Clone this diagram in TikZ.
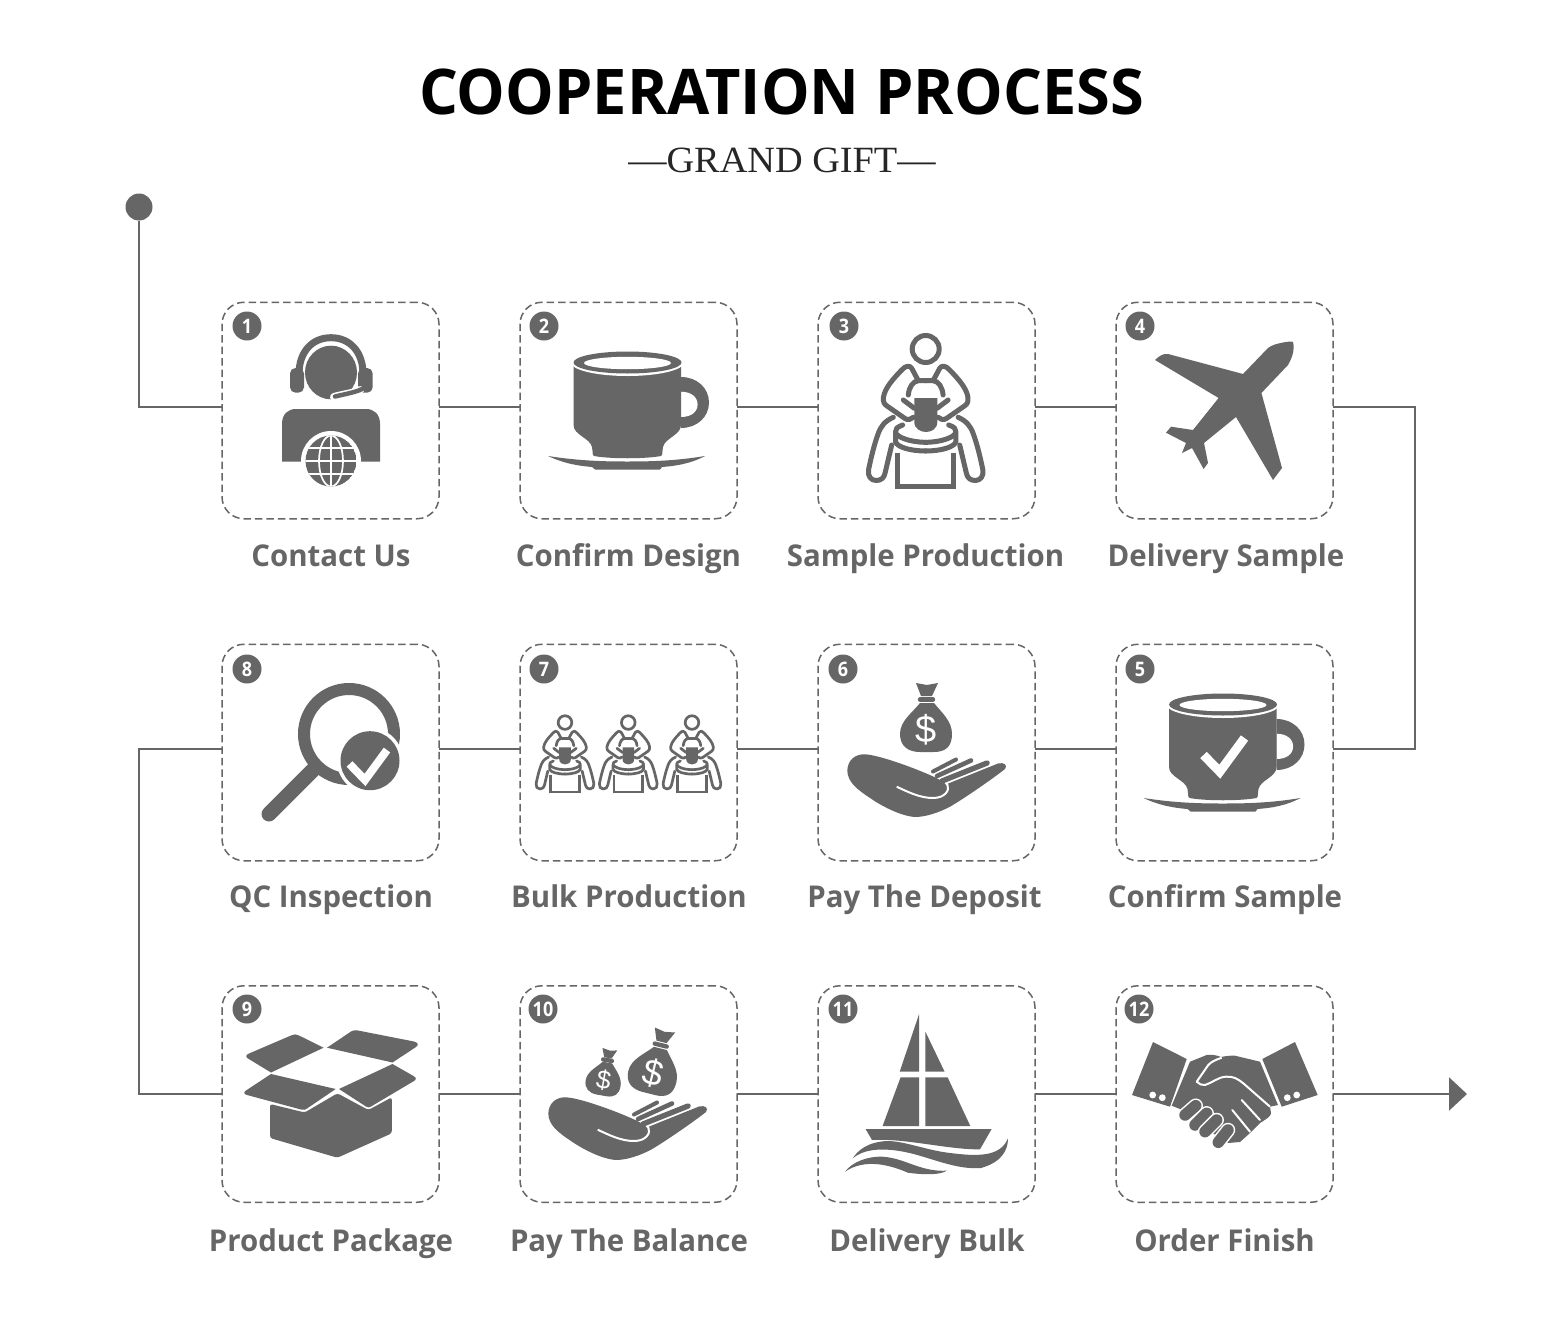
\documentclass[tikz,border=0pt]{standalone}
\usepackage{fontspec}
\usetikzlibrary{arrows.meta}
\setmainfont{Open Sans}
\newfontfamily\titlefont[FakeStretch=0.972]{Open Sans}
\newfontfamily\labfont[FakeStretch=0.98]{Open Sans}
\newfontfamily\badgefont[FakeStretch=0.9]{Open Sans}
\newfontfamily\subfont[FakeStretch=1.035]{Liberation Serif}
\newfontfamily\dollarfont{Liberation Sans}
\definecolor{ink}{HTML}{666666}
\tikzset{
  ico/.style={fill=ink,draw=none},
  conn/.style={draw=ink,line width=2.2pt},
  stepbox/.style={draw=ink,line width=1.5pt,dash pattern=on 7.5pt off 4pt,rounded corners=22pt,minimum width=217pt,minimum height=216.5pt,inner sep=0pt,outer sep=0pt},
  badge/.style={circle,fill=ink,text=white,minimum size=29pt,inner sep=0pt,font=\fontsize{20}{20}\selectfont\badgefont\bfseries},
  lab/.style={text=ink,anchor=base,inner sep=0pt,font=\fontsize{30}{30}\selectfont\labfont\bfseries},
  pl/.style={draw=ink,line cap=round,line join=round,fill=none},
}
\def\cupicon{%
  \fill[ico] (681,377) .. controls (697,377) and (709,388) .. (709,402.5) .. controls (709,417) and (697,428) .. (681,428) -- cycle;
  \fill[white] (681,391.7) .. controls (691,391.7) and (697.6,397) .. (697.6,404.5) .. controls (697.6,412) and (691,417) .. (681,417) -- cycle;
  \fill[ico] (573.5,362) -- (573.5,425) .. controls (573.5,435) and (590,438) .. (592,447) .. controls (593,452) and (592,455) .. (594,456) .. controls (610,459) and (645,459) .. (661,456) .. controls (663,455) and (662,452) .. (663,447) .. controls (665,438) and (681,435) .. (681,425) -- (681,362) -- cycle;
  \fill[white] (627.5,362.5) ellipse [x radius=56.5,y radius=13.5];
  \fill[ico] (627.5,362.5) ellipse [x radius=54,y radius=11];
  \fill[white] (627.5,363) ellipse [x radius=43.5,y radius=6.2];
  \fill[ico] (548,456) .. controls (580,461) and (605,461.5) .. (627,461.5) .. controls (650,461.5) and (675,461) .. (705,456) .. controls (690,464) and (675,466) .. (662,467) -- (660,469.5) -- (595,469.5) -- (592,467) .. controls (580,466) and (565,464) .. cycle;
}
\def\potterhalf#1{%
  \draw[pl,line width=#1] (918.3,380.7) -- (911.7,368.3) .. controls (910,365.5) and (906,365) .. (901.7,370) .. controls (893,379) and (885,388) .. (883.5,397) .. controls (883,402) and (884,404) .. (887,406) -- (905,418.5) .. controls (908,420.5) and (911,419.5) .. (913.3,417.3);
  \draw[pl,line width=#1] (903.3,400) -- (914.3,408.3);
  \draw[pl,line width=#1] (908.3,395) .. controls (909,387) and (913,381) .. (918.3,380.7) -- (926,380.7);
  \draw[pl,line width=#1] (893.3,417.3) .. controls (885,421) and (881,426) .. (878.3,433.3) .. controls (874,445) and (871,458) .. (868.5,470) .. controls (867.5,476) and (871,480.5) .. (876,480.5) .. controls (881,480.5) and (884,478) .. (885,473.3) -- (891.7,445);
  \draw[pl,line width=#1] (902.7,425) .. controls (897,427) and (895,429) .. (895.5,432) .. controls (896,437) and (910,442.3) .. (926,442.3);
  \draw[pl,line width=#1] (895.5,433) -- (895.5,441.7) .. controls (897,447) and (910,451) .. (926,451);
  \draw[pl,line width=#1,line cap=butt,line join=miter] (897.5,452.5) -- (897.5,486.5) -- (926,486.5);
}
\def\pottericon#1{%
  \draw[pl,line width=#1] (925.7,349) circle [radius=13.5];
  \fill[ico] (914.3,398) -- (937.3,398) -- (937.3,422) .. controls (937.3,429) and (931,432) .. (926,432) .. controls (921,432) and (914.3,429) .. (914.3,422) -- cycle;
  \potterhalf{#1}
  \begin{scope}[shift={(1851.4,0)},xscale=-1]\potterhalf{#1}\end{scope}
}
\def\handicon{%
  \fill[ico] (847.3,770) .. controls (848,760) and (855,754) .. (865,754.3) .. controls (880,755) and (920,770) .. (937,778.3) -- (947,784) -- (998,763.5) .. controls (1004,762) and (1008,765) .. (1005,769) .. controls (995,777) and (965,798) .. (950,806.7) .. controls (938,813) and (925,817) .. (915,817) .. controls (900,816) and (880,805) .. (870,798) .. controls (858,790) and (847,782) .. (847.3,770) -- cycle;
  \draw[white,line width=2pt] (896.7,786.7) .. controls (908,792) and (920,798) .. (933,798) .. controls (945,798) and (950,790) .. (947.5,785) .. controls (945,781) and (940,778) .. (932,774);
  \draw[draw=ink,line width=4pt,line cap=round] (933,771.5) -- (956,759.5);
  \draw[draw=ink,line width=4.6pt,line cap=round] (937,776) -- (971,760.5);
  \draw[draw=ink,line width=5.4pt,line cap=round] (942,781) -- (987,763);
}
\def\bagicon#1{%
  \fill[ico] (-10,-35) -- (1,-33) -- (12,-35) -- (6,-22) -- (-5,-22) -- cycle;
  \draw[draw=ink,line width=4.4pt,line cap=round] (-6,-18.5) -- (7,-18.5);
  \fill[ico] (-6,-15) .. controls (-14,-5) and (-26,3) .. (-26,16) .. controls (-26,28) and (-18,34) .. (-6,34) -- (8,34) .. controls (20,34) and (26,28) .. (26,16) .. controls (26,3) and (16,-5) .. (8,-15) -- cycle;
  \node[text=white,inner sep=0pt,transform shape,font=\fontsize{#1}{#1}\selectfont\dollarfont] at (0,12) {\$};
}
\begin{document}
\begin{tikzpicture}[x=1pt,y=-1pt]
\useasboundingbox (0,0) rectangle (1564,1338);
\fill[white] (0,0) rectangle (1564,1338);
% titles
\node[anchor=base,inner sep=0pt,font=\fontsize{63}{63}\selectfont\titlefont\bfseries] (title) at (781.5,114) {COOPERATION PROCESS};
\node[anchor=base,inner sep=0pt,text=black!85,font=\fontsize{37}{37}\selectfont\subfont] (sub) at (782,172) {—GRAND GIFT—};
% boxes
\foreach \nm/\cx/\cy in {b1/330.5/410.5,b2/628.5/410.5,b3/926.5/410.5,b4/1224.5/410.5,
  b8/330.5/752.5,b7/628.5/752.5,b6/926.5/752.5,b5/1224.5/752.5,
  b9/330.5/1094,b10/628.5/1094,b11/926.5/1094,b12/1224.5/1094}
  \node[stepbox] (\nm) at (\cx,\cy) {};
% connectors
\node[circle,fill=ink,minimum size=27pt,inner sep=0pt] (start) at (139,207) {};
\coordinate (finish) at (1467,1094);
\coordinate (rtop) at (1415,407);
\coordinate (lmid) at (139,749);
\draw[conn] (start.south) |- ([yshift=3.5pt]b1.west);
\draw[conn] ([yshift=3.5pt]b1.east) -- ([yshift=3.5pt]b2.west);
\draw[conn] ([yshift=3.5pt]b2.east) -- ([yshift=3.5pt]b3.west);
\draw[conn] ([yshift=3.5pt]b3.east) -- ([yshift=3.5pt]b4.west);
\draw[conn] ([yshift=3.5pt]b4.east) -- (rtop) |- ([yshift=3.5pt]b5.east);
\draw[conn] ([yshift=3.5pt]b5.west) -- ([yshift=3.5pt]b6.east);
\draw[conn] ([yshift=3.5pt]b6.west) -- ([yshift=3.5pt]b7.east);
\draw[conn] ([yshift=3.5pt]b7.west) -- ([yshift=3.5pt]b8.east);
\draw[conn] ([yshift=3.5pt]b8.west) -- (lmid) |- (b9.west);
\draw[conn] (b9.east) -- (b10.west);
\draw[conn] (b10.east) -- (b11.west);
\draw[conn] (b11.east) -- (b12.west);
\draw[conn,-{Triangle[length=18pt,width=33pt]}] (b12.east) -- (finish);
% badges
\foreach \nm/\bx/\by/\t in {n1/247/326/1,n2/544/326/2,n3/844/326/3,n4/1140/326/4,
  n8/247/669/8,n7/544/669/7,n6/843/669/6,n5/1140/669/5,
  n9/247/1009/9,n10/543/1009/10,n11/843/1009/11,n12/1139/1009/12}
  \node[badge] (\nm) at (\bx,\by) {\t};
% labels
\node[lab] (l1) at (331,566) {Contact Us};
\node[lab] (l2) at (628.5,566) {Confirm Design};
\node[lab] (l3) at (925.5,566) {Sample Production};
\node[lab] (l4) at (1226,566) {Delivery Sample};
\node[lab] (l8) at (331,907) {QC Inspection};
\node[lab] (l7) at (629,907) {Bulk Production};
\node[lab] (l6) at (924.5,907) {Pay The Deposit};
\node[lab] (l5) at (1225,907) {Confirm Sample};
\node[lab] (l9) at (331,1251) {Product Package};
\node[lab] (l10) at (629,1251) {Pay The Balance};
\node[lab] (l11) at (927,1251) {Delivery Bulk};
\node[lab] (l12) at (1224.5,1251) {Order Finish};
% icon 1
\draw[draw=ink,line width=7pt] (299,374) .. controls (299,352) and (312,337.7) .. (331,337.7) .. controls (350,337.7) and (363,352) .. (363,374);
\fill[ico] (331,372.5) ellipse [x radius=26,y radius=26.8];
\fill[ico,rounded corners=5.5pt] (290,368) rectangle (304,392.7);
\fill[ico,rounded corners=5.5pt] (358,368) rectangle (372.7,392.7);
\draw[white,line width=8pt,line cap=round] (360,390) .. controls (355,393) and (345,394) .. (334,397);
\draw[draw=ink,line width=4.5pt,line cap=round] (366,386) .. controls (362,391) and (350,393) .. (335,396.5);
\fill[ico] (282,461.5) -- (282,424) .. controls (282,414) and (288,409) .. (296,409) -- (366,409) .. controls (374,409) and (380,414) .. (380,424) -- (380,461.5) -- cycle;
\fill[white] (331,461) circle [radius=30];
\begin{scope}
  \clip (331,461) circle [radius=25.5];
  \fill[ico] (331,461) circle [radius=25.5];
  \draw[white,line width=1.7pt] (300,448) -- (362,448) (300,461) -- (362,461) (300,474) -- (362,474) (331,430) -- (331,492);
  \draw[white,line width=1.7pt] (331,461) ellipse [x radius=12,y radius=25.5];
\end{scope}
% icon 2
\cupicon
% icon 3
\pottericon{5pt}
% icon 4
\fill[ico] (1282,342.7) .. controls (1276,344) and (1272,345) .. (1268,348) -- (1243,374) -- (1168,354) .. controls (1163,353) and (1158,357) .. (1155,360) -- (1218.6,398) -- (1193,430) -- (1171,426.7) -- (1166,432.7) -- (1186,443) -- (1182,453) -- (1192,448) -- (1203.6,469) -- (1208,463) -- (1204,443) -- (1236,417) -- (1273,480) -- (1282,468) -- (1261.4,393) -- (1288,365) .. controls (1292,358) and (1295,350) .. (1293,342) .. controls (1291,341) and (1286,342) .. (1282,342.7) -- cycle;
% icon 8
\draw[draw=ink,line width=12pt] (349,734) circle [radius=45];
\draw[draw=ink,line width=15pt,line cap=round] (313,770) -- (269,814);
\fill[white] (370,760.7) circle [radius=33];
\fill[ico] (370,760.7) circle [radius=29.5];
\draw[white,line width=8pt,line join=miter] (349.5,764) -- (365,780) -- (387,750);
% icon 7
\begin{scope}[shift={(97.5,546.3)},scale=.505]\pottericon{2.7pt}\end{scope}
\begin{scope}[shift={(160.8,546.3)},scale=.505]\pottericon{2.7pt}\end{scope}
\begin{scope}[shift={(224.5,546.3)},scale=.505]\pottericon{2.7pt}\end{scope}
% icon 6
\begin{scope}[shift={(926,718)}]\bagicon{38}\end{scope}
\handicon
% icon 5
\begin{scope}[shift={(595.5,342)}]
  \cupicon
  \draw[white,line width=9pt,line join=miter] (608,413) -- (624.3,429.7) -- (649,396);
\end{scope}
% icon 9
\fill[ico] (323.6,1047.7) -- (299,1035.5) .. controls (296,1034) and (294,1034) .. (291,1035.5) -- (249,1053.5) .. controls (245.5,1055) and (245.5,1057) .. (248,1058.5) -- (271,1072.5) -- cycle;
\fill[ico] (327,1047.7) -- (351,1031.5) .. controls (353,1030) and (355,1030) .. (358,1030.5) -- (414,1041.5) .. controls (418,1042.5) and (419,1045) .. (416,1047) -- (392.5,1062.5) -- cycle;
\fill[ico] (271,1074) -- (335.7,1089) -- (307,1108.5) .. controls (305,1110) and (304,1110) .. (301,1109.5) -- (247,1095) .. controls (243.5,1094) and (243.5,1092) .. (246,1090.5) -- cycle;
\fill[ico] (392.5,1064) -- (413.5,1076) .. controls (416.5,1078) and (416.5,1079) .. (414,1081) -- (371,1106.5) .. controls (369,1107.7) and (368,1107.7) .. (366,1106.5) -- (339,1089) -- cycle;
\fill[ico,rounded corners=2.5pt] (270,1104) -- (304.7,1112.5) -- (337.4,1093.3) -- (368.4,1110) -- (391.8,1097.3) -- (391.8,1133.3) -- (337.4,1157.7) -- (270,1138) -- cycle;
% icon 10
\begin{scope}[shift={(656,1062)},rotate=-14,scale=.95]\bagicon{38}\end{scope}
\begin{scope}[shift={(605,1072.5)},rotate=-10,scale=.68]\bagicon{38}\end{scope}
\begin{scope}[shift={(-299,343)}]\handicon\end{scope}
% icon 11
\fill[ico] (919,1014.3) -- (919,1071.7) -- (899.7,1071.7) -- cycle;
\fill[ico] (925.4,1031.7) -- (944.6,1071.7) -- (925.4,1071.7) -- cycle;
\fill[ico] (919,1077.3) -- (919,1126) -- (882.6,1126) -- (900.6,1077.3) -- cycle;
\fill[ico] (925.4,1077.3) -- (947.6,1077.3) -- (970.3,1126) -- (925.4,1126) -- cycle;
\fill[ico] (865.6,1129) -- (991.6,1129) -- (980,1149.3) .. controls (950,1150) and (905,1138) .. (872,1140) -- cycle;
\fill[ico] (852.7,1158.3) .. controls (858,1150) and (868,1142) .. (887,1141) .. controls (905,1141) and (925,1150) .. (950,1153) .. controls (975,1156) and (1000,1158) .. (1008,1138.3) .. controls (1008,1150) and (1002,1162) .. (981,1168) .. controls (955,1170) and (930,1157) .. (905,1152) .. controls (885,1148) and (865,1148) .. cycle;
\fill[ico] (845,1171.7) .. controls (852,1162) and (868,1156) .. (882.6,1156.7) .. controls (905,1158) and (920,1172) .. (946.8,1170.7) .. controls (940,1175) and (925,1175) .. (908,1172.7) .. controls (890,1165) and (865,1158) .. cycle;
% icon 12
\fill[ico] (1153,1042) -- (1186.7,1059) -- (1170,1106.7) -- (1132,1095) -- cycle;
\fill[ico] (1295,1042) -- (1317.7,1095) -- (1281.7,1106.7) -- (1262.3,1059) -- cycle;
\fill[white] (1152.7,1095) circle [radius=3.4];
\fill[white] (1162.3,1097.7) circle [radius=3.4];
\fill[white] (1287.3,1097.7) circle [radius=3.4];
\fill[white] (1296.7,1095) circle [radius=3.4];
\fill[ico] (1190,1061.7) -- (1206.7,1055) .. controls (1212,1054.5) and (1216,1055) .. (1221,1057) .. controls (1226,1056) and (1230,1055.5) .. (1235,1055.7) -- (1260,1061.7) -- (1278,1105) -- (1270,1106.7) -- (1271,1113) .. controls (1271,1116) and (1268,1118) .. (1260,1123) -- (1250,1133) -- (1240,1142) -- (1228,1143) -- (1200,1125) -- (1180,1109) -- (1171.7,1105.7) -- cycle;
\draw[white,line width=2pt,line join=round] (1221.7,1057.7) .. controls (1215,1060) and (1211,1062) .. (1208.3,1065) -- (1196.7,1081.7) .. controls (1199,1084) and (1202,1085.5) .. (1205,1085) .. controls (1212,1083) and (1218,1077) .. (1226,1076.7) .. controls (1233,1076) and (1238,1079) .. (1243.3,1083.3) -- (1270,1106.7);
\draw[white,line width=2pt,line cap=round] (1232.3,1110) -- (1250,1131.7) (1241.7,1100) -- (1260,1120);
\foreach \ax/\ay/\bx/\by in {1195.7/1105.7/1185/1115,1206.7/1113.3/1195/1125,1216.7/1120/1205/1131.7,1228/1130/1218.3/1142.3}{
  \draw[white,line width=14.5pt,line cap=round] (\ax,\ay) -- (\bx,\by);
  \draw[draw=ink,line width=11.5pt,line cap=round] (\ax,\ay) -- (\bx,\by);
}
\end{tikzpicture}
\end{document}
